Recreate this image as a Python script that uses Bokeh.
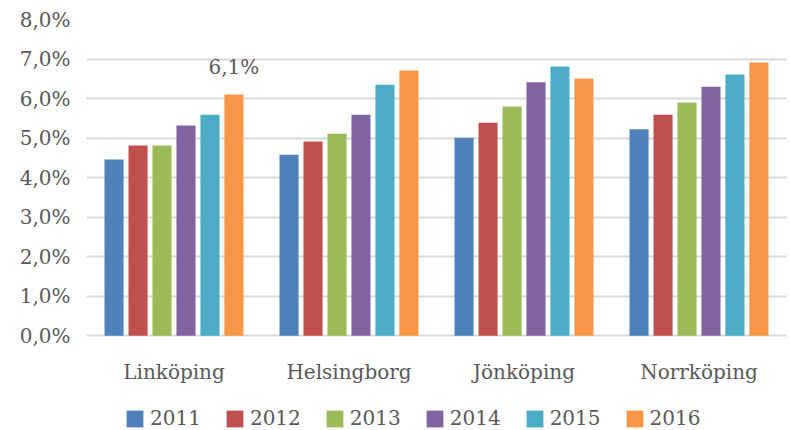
from bokeh.plotting import figure
from bokeh.models import ColumnDataSource, FactorRange, Range1d, FixedTicker, Legend, LegendItem
from bokeh.transform import dodge
from bokeh.core.properties import value
from bokeh.embed import file_html
from bokeh.resources import INLINE

cities = ["Linköping", "Helsingborg", "Jönköping", "Norrköping"]
years = ["2011", "2012", "2013", "2014", "2015", "2016"]
v2011 = [4.46, 4.58, 5.01, 5.22]
v2012 = [4.81, 4.91, 5.39, 5.59]
v2013 = [4.81, 5.11, 5.80, 5.90]
v2014 = [5.32, 5.59, 6.41, 6.30]
v2015 = [5.59, 6.35, 6.81, 6.61]
v2016 = [6.10, 6.71, 6.51, 6.91]
colors = ["#4F81BD", "#C0504D", "#9BBB59", "#8064A2", "#4BACC6", "#F79646"]
y_ticks = [0, 1, 2, 3, 4, 5, 6, 7, 8]
y_tick_labels = ["0,0%", "1,0%", "2,0%", "3,0%", "4,0%", "5,0%", "6,0%", "7,0%", "8,0%"]
label_city = "Linköping"
label_year = "2016"

FONT = "DejaVu Serif"
TXT = "#595959"

series = [v2011, v2012, v2013, v2014, v2015, v2016]
data = dict(city=cities, base=[0] * len(cities))
for yr, vals in zip(years, series):
    data[yr] = vals
src = ColumnDataSource(data)

# frame spans down to the bottom edge so the legend and category labels sit inside it
p = figure(x_range=FactorRange(*cities, range_padding=0), y_range=Range1d(-2.4, 8),
           width=790, height=430, output_backend="svg", toolbar_location=None)
p.min_border_left = 86
p.min_border_right = 4
p.min_border_top = 19
p.min_border_bottom = 0
p.outline_line_color = None
p.xaxis.visible = False

step = 0.137
bw = 0.109
renderers = []
for i, (yr, c) in enumerate(zip(years, colors)):
    r = p.vbar(x=dodge("city", (i - 2.5) * step, range=p.x_range), top=yr, bottom="base",
               width=bw, source=src, fill_color=c, line_color=None)
    renderers.append(r)

# category labels under the zero line
p.text(x="city", y="base", text="city", source=src, text_align="center",
       text_baseline="alphabetic", y_offset=36,
       text_font=value(FONT), text_font_size="20px", text_color=TXT)

# data label
ci = cities.index(label_city)
yi = years.index(label_year)
lv = series[yi][ci]
lsrc = ColumnDataSource(dict(city=[label_city], val=[lv], txt=[f"{lv:.1f}%".replace(".", ",")]))
p.text(x=dodge("city", (yi - 2.5) * step, range=p.x_range), y="val", text="txt", source=lsrc,
       text_align="center", text_baseline="alphabetic", y_offset=-28,
       text_font=value(FONT), text_font_size="20px", text_color=TXT)

# y axis
p.yaxis.ticker = FixedTicker(ticks=y_ticks)
p.yaxis.major_label_overrides = {t: l for t, l in zip(y_ticks, y_tick_labels)}
p.yaxis.axis_line_color = None
p.yaxis.major_tick_line_color = None
p.yaxis.minor_tick_line_color = None
p.yaxis.major_label_standoff = 10
p.yaxis.major_label_text_font = FONT
p.yaxis.major_label_text_font_size = "20px"
p.yaxis.major_label_text_color = TXT
p.yaxis.major_label_text_baseline = "top"

p.xgrid.grid_line_color = None
p.ygrid.grid_line_color = "#D9D9D9"
p.ygrid.grid_line_width = 2

legend = Legend(items=[LegendItem(label=yr, renderers=[r]) for yr, r in zip(years, renderers)],
                orientation="horizontal", glyph_width=21, glyph_height=21,
                label_text_font=FONT, label_text_font_size="20px", label_text_color=TXT,
                spacing=23, label_standoff=5, padding=0, margin=0,
                border_line_color=None, background_fill_alpha=0, location=(38, 0))
p.add_layout(legend, "center")

open("out.html", "w").write(file_html(p, INLINE))
